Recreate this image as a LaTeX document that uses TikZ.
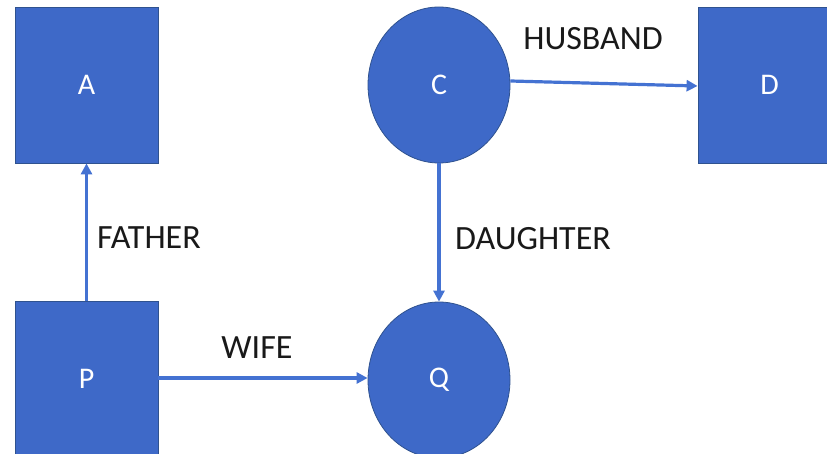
\documentclass[tikz,border=0pt]{standalone}
\usepackage{fontspec}
\setmainfont{Carlito}
\usetikzlibrary{shapes.geometric,arrows.meta}
\definecolor{nodefill}{RGB}{62,105,200}
\definecolor{nodeedge}{RGB}{47,82,143}
\definecolor{linkblue}{RGB}{68,114,210}
\definecolor{labeltext}{RGB}{25,25,25}
\tikzset{
  sq/.style={draw=nodeedge, line width=0.8pt, fill=nodefill, rectangle, minimum width=143pt, minimum height=156pt, inner sep=0pt, text=white, font=\fontsize{30}{36}\selectfont},
  circ/.style={draw=nodeedge, line width=0.8pt, fill=nodefill, ellipse, minimum width=142pt, minimum height=156pt, inner sep=0pt, text=white, font=\fontsize{30}{36}\selectfont},
  link/.style={draw=linkblue, line width=3.2pt, -{Triangle[length=11pt,width=11pt]}},
  lbl/.style={inner sep=0pt, text=labeltext, font=\fontsize{34}{40}\selectfont}
}
\begin{document}
\begin{tikzpicture}[x=1pt,y=-1pt]
\useasboundingbox (0,0) rectangle (827,454);
\clip (0,0) rectangle (827,454);
\node[sq] (A) at (86.5,85) {A};
\node[sq] (P) at (86.5,379) {P};
\node[sq] (D) at (769.5,85) {D};
\node[circ] (C) at (439,85) {C};
\node[circ] (Q) at (439,380) {Q};
\draw[link] (P.north) -- (A.south);
\draw[link] (C.south) -- (Q.north);
\draw[link] ([yshift=1pt]P.east) -- ([yshift=2pt]Q.west);
\draw[link] ([yshift=4pt]C.east) -- ([yshift=-1pt]D.west);
\node[lbl] (lh) at (593,39) {HUSBAND};
\node[lbl] (lf) at (149,238) {FATHER};
\node[lbl] (ld) at (533,239) {DAUGHTER};
\node[lbl] (lw) at (257,348) {WIFE};
\end{tikzpicture}
\end{document}
